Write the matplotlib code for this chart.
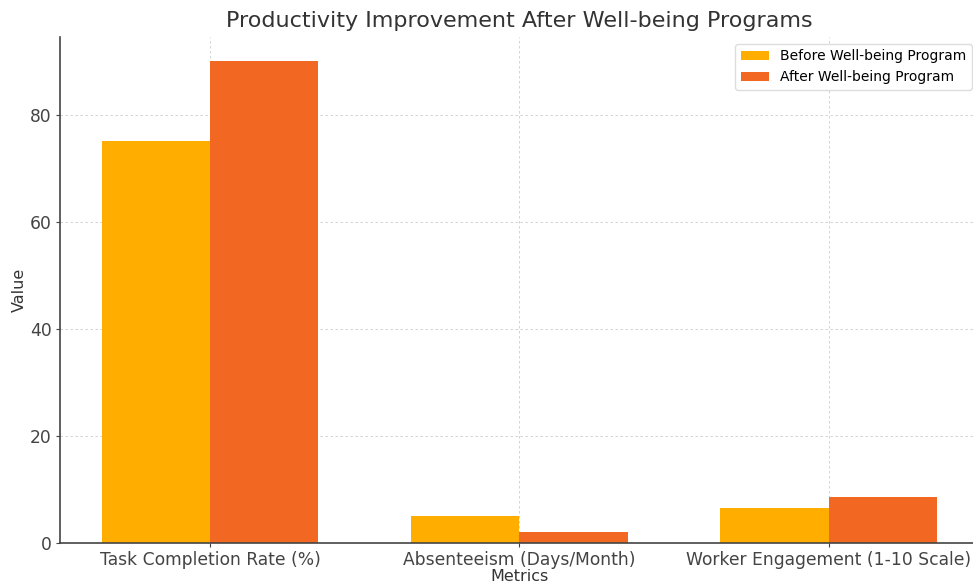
import numpy as np
import matplotlib
matplotlib.use("Agg")
import matplotlib.pyplot as plt

# data
metrics = ["Task Completion Rate (%)", "Absenteeism (Days/Month)", "Worker Engagement (1-10 Scale)"]
before = [75, 5, 6.5]
after = [90, 2, 8.5]

x = np.arange(len(metrics))
width = 0.35

fig = plt.figure(figsize=(9.73, 5.87), dpi=100)
ax = fig.add_axes([0.0617, 0.075, 0.944, 0.862])

ax.bar(x - width / 2, before, width, label="Before Well-being Program", color="#FFAE00")
ax.bar(x + width / 2, after, width, label="After Well-being Program", color="#F26822")

ax.set_title("Productivity Improvement After Well-being Programs", fontsize=16, color="#333333", pad=7)
ax.set_xlabel("Metrics", fontsize=11.5, color="#333333", labelpad=0)
ax.set_ylabel("Value", fontsize=11.5, color="#333333", labelpad=2)
ax.set_xticks(x)
ax.set_xticklabels(metrics, fontsize=12.3, color="#333333")
ax.tick_params(axis="y", labelsize=12.3, labelcolor="#333333")
ax.tick_params(colors="#444444", length=3, pad=3)

ax.grid(True, linestyle=(0, (3, 3)), color="#cccccc", linewidth=0.6)
ax.set_axisbelow(True)
ax.spines["top"].set_visible(False)
ax.spines["right"].set_visible(False)
ax.spines["left"].set_color("#444444")
ax.spines["bottom"].set_color("#444444")
ax.spines["left"].set_linewidth(1.2)
ax.spines["bottom"].set_linewidth(1.2)

ax.legend(loc="upper right", fontsize=10, framealpha=1, edgecolor="#dddddd")

fig.savefig("out.png", dpi=100)
